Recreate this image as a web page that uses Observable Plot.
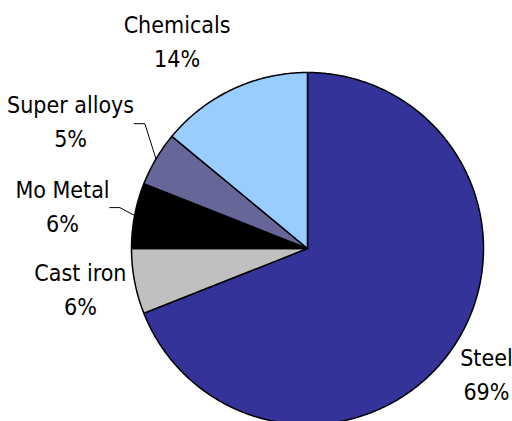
<!DOCTYPE html>
<html>
<head>
<meta charset="utf-8">
<script src="https://cdn.jsdelivr.net/npm/d3@7"></script>
<script src="https://cdn.jsdelivr.net/npm/@observablehq/plot@0.6"></script>
<style>
  html, body { margin: 0; padding: 0; background: #fff; }
  svg { display: block; }
</style>
</head>
<body>
<div id="chart"></div>
<script>
// Molybdenum end uses, share of total (%)
const categories = ["Steel", "Cast iron", "Mo Metal", "Super alloys", "Chemicals"];
const shares = [69, 6, 6, 5, 14];
const colors = ["#333399", "#C0C0C0", "#000000", "#666699", "#99CCFF"];

// Label placement: polar angle (degrees clockwise from 12 o'clock) and radius (pie radii)
const labelLayout = {
  "Steel":        {angle: 125.5, r: 1.249},
  "Cast iron":    {angle: 259.3, r: 1.313},
  "Mo Metal":     {angle: 279.4, r: 1.411},
  "Super alloys": {angle: 297.9, r: 1.523},
  "Chemicals":    {angle: 327.6, r: 1.383}
};
// Leader lines: elbow (polar) and horizontal tail length (pie radii)
const leaderLayout = {
  "Mo Metal":     {angle: 282.3, r: 1.091, tail: 0.057},
  "Super alloys": {angle: 307.5, r: 1.165, tail: 0.060}
};

const table = categories.map((name, i) => ({name, share: shares[i]}));
const arcs = d3.pie().sort(null).value(d => d.share)(table);

// Polygon outline of each slice, in unit-radius coordinates (y up)
const slicePoints = [];
for (const a of arcs) {
  const name = a.data.name;
  slicePoints.push({name, x: 0, y: 0});
  const n = Math.max(2, Math.ceil((a.endAngle - a.startAngle) / (Math.PI / 360)));
  for (let k = 0; k <= n; k++) {
    const t = a.startAngle + (a.endAngle - a.startAngle) * k / n;
    slicePoints.push({name, x: Math.sin(t), y: Math.cos(t)});
  }
}

const rad = deg => deg * Math.PI / 180;
const labels = arcs.map(a => {
  const L = labelLayout[a.data.name];
  return {
    text: `${a.data.name}\n${a.data.share}%`,
    x: L.r * Math.sin(rad(L.angle)),
    y: L.r * Math.cos(rad(L.angle))
  };
});

const leaders = [];
for (const a of arcs) {
  const L = leaderLayout[a.data.name];
  if (!L) continue;
  const mid = (a.startAngle + a.endAngle) / 2;
  const ex = L.r * Math.sin(rad(L.angle)), ey = L.r * Math.cos(rad(L.angle));
  leaders.push({name: a.data.name, x: ex - L.tail, y: ey});
  leaders.push({name: a.data.name, x: ex, y: ey});
  leaders.push({name: a.data.name, x: Math.sin(mid), y: Math.cos(mid)});
}

const chart = Plot.plot({
  width: 512,
  height: 421,
  margin: 0,
  x: {domain: [-1, 1], range: [131, 483], axis: null},
  y: {domain: [-1, 1], range: [424, 72], axis: null},
  color: {domain: categories, range: colors},
  style: {
    fontFamily: "'DejaVu Sans Condensed', 'DejaVu Sans', sans-serif",
    fontStretch: "condensed",
    letterSpacing: "0px",
    background: "#fff",
    color: "#000"
  },
  marks: [
    Plot.line(slicePoints, {
      x: "x", y: "y", z: "name", fill: "name",
      stroke: "#000", strokeWidth: 1.5, strokeLinejoin: "round",
      curve: "linear-closed"
    }),
    Plot.line(leaders, {x: "x", y: "y", z: "name", stroke: "#000", strokeWidth: 1}),
    Plot.text(labels, {
      x: "x", y: "y", text: "text", dy: -4,
      fontSize: 23, lineHeight: 1.48, textAnchor: "middle", fill: "#000"
    })
  ]
});
document.getElementById("chart").appendChild(chart);
</script>
</body>
</html>
